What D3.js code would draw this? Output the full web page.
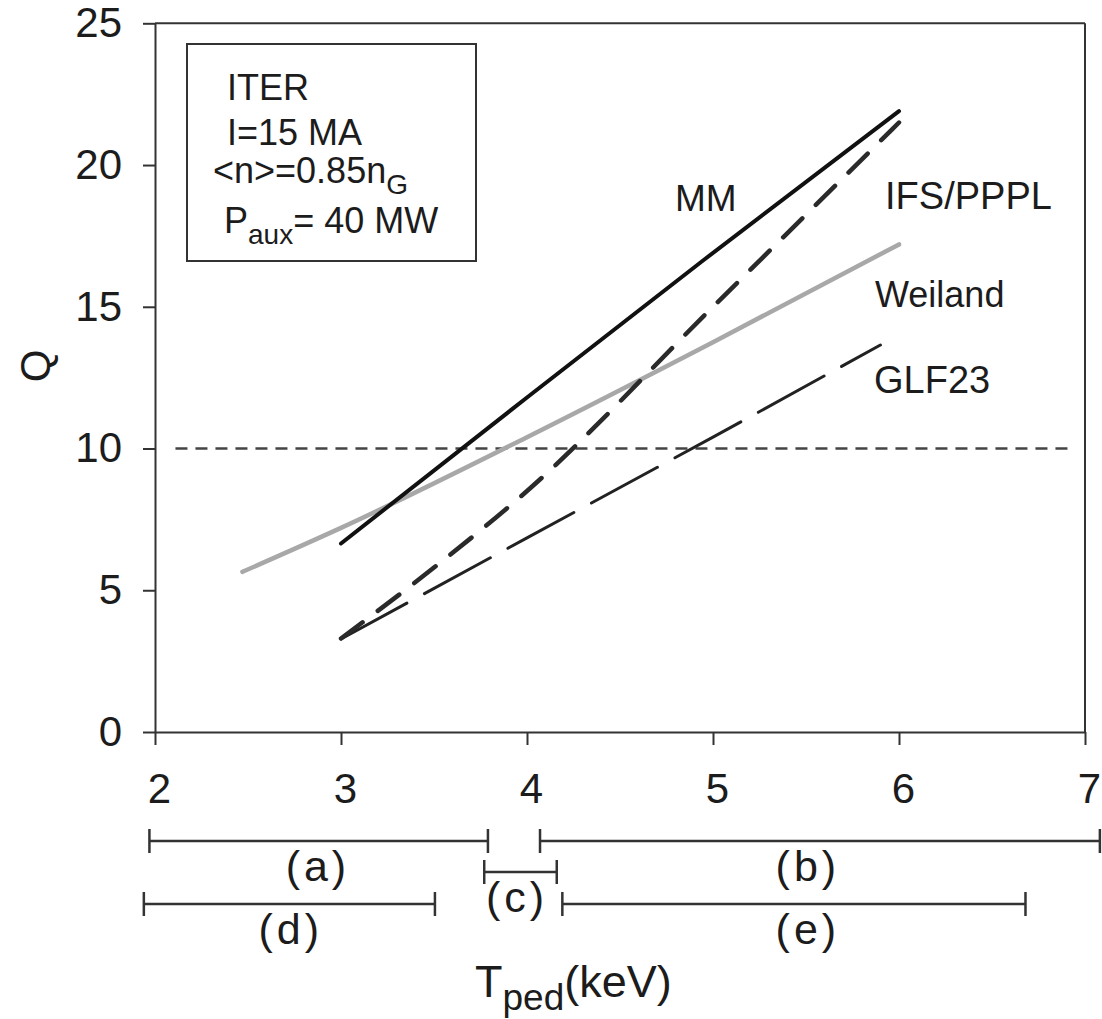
<!DOCTYPE html>
<html>
<head>
<meta charset="utf-8">
<script src="https://cdn.jsdelivr.net/npm/d3@7"></script>
<style>
  html, body { margin: 0; padding: 0; background: #fff; }
  svg { display: block; font-family: "Liberation Sans", Arial, Helvetica, sans-serif; }
</style>
</head>
<body>
<svg id="chart" width="1102" height="1019"></svg>
<script>
// Axis ticks
const tempTicks = [2, 3, 4, 5, 6, 7];
const qTicks = [0, 5, 10, 15, 20, 25];

// Fusion gain Q versus pedestal temperature for each transport model
const mmT = [3.0, 4.0, 4.95, 6.0];
const mmQ = [6.65, 11.8, 16.65, 21.9];

const ifsT = [3.0, 3.5, 4.0, 5.0, 6.0];
const ifsQ = [3.3, 5.8, 8.5, 15.0, 21.5];

const weilandT = [2.47, 3.0, 4.0, 5.0, 6.0];
const weilandQ = [5.65, 7.2, 10.4, 13.75, 17.2];

const glfT = [3.0, 4.0, 5.0, 5.9];
const glfQ = [3.28, 6.85, 10.4, 13.65];

// Q = 10 target
const qTarget = 10;
const targetSpan = [2.11, 6.94];

// Pedestal-temperature ranges
const rangeNames = ["(a)", "(b)", "(c)", "(d)", "(e)"];
const rangeFrom = [1.97, 4.07, 3.77, 1.94, 4.19];
const rangeTo = [3.79, 7.08, 4.16, 3.505, 6.68];

// Machine parameters
const paramLines = ["ITER", "I=15 MA", "<n>=0.85n_G", "P_aux= 40 MW"];

// ---------------------------------------------------------------
const svg = d3.select("#chart");
const ink = "#1c1c1c";
const axisInk = "#333";

const x = d3.scaleLinear().domain([2, 7]).range([155, 1085]);
const y = d3.scaleLinear().domain([0, 25]).range([732, 23.3]);

// frame: top and right borders
svg.append("line")
  .attr("x1", x(2)).attr("x2", x(7)).attr("y1", y(25)).attr("y2", y(25))
  .attr("stroke", axisInk).attr("stroke-width", 2);
svg.append("line")
  .attr("x1", x(7)).attr("x2", x(7)).attr("y1", y(25)).attr("y2", y(0))
  .attr("stroke", axisInk).attr("stroke-width", 2);

// axes
const yAxis = svg.append("g")
  .attr("transform", `translate(${x(2)},0)`)
  .call(d3.axisLeft(y).tickValues(qTicks).tickFormat(d3.format("d"))
    .tickSize(12).tickPadding(21).tickSizeOuter(0));
const xAxis = svg.append("g")
  .attr("transform", `translate(0,${y(0)})`)
  .call(d3.axisBottom(x).tickValues(tempTicks).tickFormat(d3.format("d"))
    .tickSize(13).tickPadding(28).tickSizeOuter(0));

[yAxis, xAxis].forEach(g => {
  g.select(".domain").attr("stroke", axisInk).attr("stroke-width", 2);
  g.selectAll(".tick line").attr("stroke", axisInk).attr("stroke-width", 2);
  g.selectAll(".tick text")
    .attr("fill", ink)
    .style("font-size", "42px")
    .style("font-family", "\"Liberation Sans\", Arial, sans-serif");
});
xAxis.selectAll(".tick text").attr("dx", 4);

// Q axis title
svg.append("text")
  .attr("transform", "translate(50,366) rotate(-90)")
  .attr("text-anchor", "middle")
  .attr("fill", ink)
  .style("font-size", "42px")
  .text("Q");

// Q = 10 reference line
svg.append("line")
  .attr("x1", x(targetSpan[0])).attr("x2", x(targetSpan[1]))
  .attr("y1", y(qTarget)).attr("y2", y(qTarget))
  .attr("stroke", "#444").attr("stroke-width", 2.5)
  .attr("stroke-dasharray", "12,8");

// model curves
const straight = d3.line().x(d => x(d[0])).y(d => y(d[1]));
const smooth = d3.line().x(d => x(d[0])).y(d => y(d[1])).curve(d3.curveMonotoneX);
const pairs = (ts, qs) => ts.map((t, i) => [t, qs[i]]);

const curves = [
  { pts: pairs(weilandT, weilandQ), color: "#a8a8a8", width: 4.5, dash: null, gen: smooth },
  { pts: pairs(glfT, glfQ), color: "#222", width: 3, dash: "75,20", gen: straight },
  { pts: pairs(ifsT, ifsQ), color: "#2a2a2a", width: 4.5, dash: "27,19", gen: smooth },
  { pts: pairs(mmT, mmQ), color: "#111", width: 4, dash: null, gen: straight }
];

svg.append("g").selectAll("path")
  .data(curves)
  .join("path")
  .attr("d", d => d.gen(d.pts))
  .attr("fill", "none")
  .attr("stroke", d => d.color)
  .attr("stroke-width", d => d.width)
  .attr("stroke-linecap", "round")
  .attr("stroke-linejoin", "round")
  .attr("stroke-dasharray", d => d.dash);

// model labels
const modelLabels = [
  { text: "MM", t: 4.796, q: 18.39, size: 37 },
  { text: "IFS/PPPL", t: 5.925, q: 18.45, size: 38 },
  { text: "Weiland", t: 5.871, q: 15.0, size: 36 },
  { text: "GLF23", t: 5.866, q: 11.96, size: 38 }
];
svg.append("g").selectAll("text")
  .data(modelLabels)
  .join("text")
  .attr("x", d => x(d.t))
  .attr("y", d => y(d.q))
  .attr("fill", ink)
  .style("font-size", d => d.size + "px")
  .text(d => d.text);

// parameter box
svg.append("rect")
  .attr("x", 187).attr("y", 44).attr("width", 289).attr("height", 217)
  .attr("fill", "none").attr("stroke", axisInk).attr("stroke-width", 2);

const box = svg.append("g").attr("fill", ink).style("font-size", "36px");
const rows = [
  { x: 227, y: 100 }, { x: 227, y: 145 }, { x: 213, y: 183 }, { x: 224, y: 233 }
];
paramLines.forEach((str, i) => {
  const t = box.append("text").attr("x", rows[i].x).attr("y", rows[i].y);
  const parts = str.split("_");
  t.append("tspan").text(parts[0]);
  if (parts.length > 1) {
    // subscript: first word after the underscore
    const m = parts[1].match(/^(\w+)(.*)$/);
    t.append("tspan").attr("dy", 11).style("font-size", "28px").text(m[1]);
    if (m[2]) t.append("tspan").attr("dy", -11).text(m[2]);
  }
});

// temperature ranges below the axis
const rowY = [841, 872, 904];
const rangeRow = [0, 0, 1, 2, 2];
const labelCentre = [2.876, 5.51, 3.946, 2.73, 5.51];
const ranges = rangeNames.map((n, i) => ({ name: n, from: rangeFrom[i], to: rangeTo[i], row: rangeRow[i], mid: labelCentre[i] }));

const rg = svg.append("g").attr("stroke", axisInk).attr("stroke-width", 2.5);
ranges.forEach(r => {
  const yy = rowY[r.row];
  rg.append("line").attr("x1", x(r.from)).attr("x2", x(r.to)).attr("y1", yy).attr("y2", yy);
  [r.from, r.to].forEach(v => {
    rg.append("line").attr("x1", x(v)).attr("x2", x(v)).attr("y1", yy - 12).attr("y2", yy + 12);
  });
});
svg.append("g").selectAll("text")
  .data(ranges)
  .join("text")
  .attr("x", d => x(d.mid))
  .attr("y", d => rowY[d.row] + 40)
  .attr("text-anchor", "middle")
  .attr("fill", ink)
  .style("font-size", "43px")
  .style("letter-spacing", "4px")
  .text(d => d.name);

// temperature axis title
const xt = svg.append("text")
  .attr("x", 475).attr("y", 997)
  .attr("fill", ink)
  .style("font-size", "45px");
xt.append("tspan").text("T");
xt.append("tspan").attr("dy", 13).style("font-size", "37px").text("ped");
xt.append("tspan").attr("dy", -13).text("(keV)");
</script>
</body>
</html>
